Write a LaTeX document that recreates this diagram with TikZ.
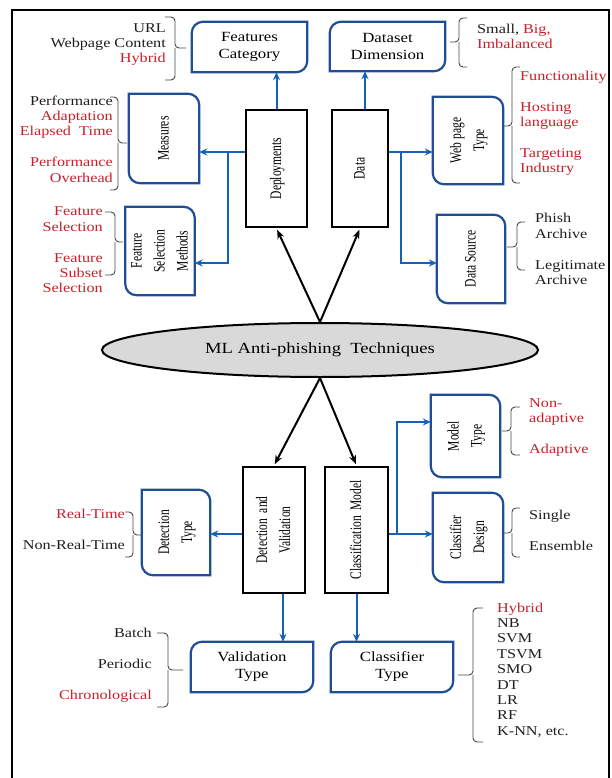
\documentclass[tikz,border=0pt]{standalone}
\usepackage{fontspec}
\usepackage{graphicx}
\setmainfont{Liberation Serif}[FakeStretch=1.2]
\newfontfamily\rotfont{Liberation Serif}[FakeStretch=0.72]
\usetikzlibrary{arrows.meta,shapes.geometric}

\definecolor{boxblue}{RGB}{32,78,150}
\definecolor{flowblue}{RGB}{22,96,182}
\definecolor{itemred}{RGB}{200,32,40}
\definecolor{itemgray}{RGB}{30,30,30}
\definecolor{bracegray}{RGB}{70,70,70}
\definecolor{hubgray}{RGB}{217,217,217}

\newcommand{\hl}[1]{\textcolor{itemred}{#1}}
\newcommand{\vlabel}[1]{\rotatebox{90}{\rotfont\fontsize{16}{23}\selectfont\begin{tabular}{@{}c@{}}#1\end{tabular}}}
% rounded top-left and bottom-right
\newcommand{\tlbr}[1]{\draw[boxline] ([yshift=-\rr]#1.north west) arc[start angle=180,end angle=90,radius=\rr] -- (#1.north east) -- ([yshift=\rr]#1.south east) arc[start angle=0,end angle=-90,radius=\rr] -- (#1.south west) -- cycle;}
% rounded top-right and bottom-left
\newcommand{\trbl}[1]{\draw[boxline] ([xshift=-\rr]#1.north east) arc[start angle=90,end angle=0,radius=\rr] -- (#1.south east) -- ([xshift=\rr]#1.south west) arc[start angle=270,end angle=180,radius=\rr] -- (#1.north west) -- cycle;}
% brace: ends x, spine x, tip x, top y, bottom y, middle y
\newcommand{\curly}[6]{\draw[brc] (#1,#4) -| (#2,#6) -- (#3,#6); \draw[brc] (#1,#5) -| (#2,#6);}

\begin{document}
\begin{tikzpicture}[x=1pt,y=1pt,
    boxline/.style={draw=boxblue,line width=2.2pt},
    catbox/.style={inner sep=0pt,align=center,font=\fontsize{14}{17}\selectfont},
    subbox/.style={inner sep=0pt},
    mainbox/.style={draw=black,line width=2.8pt,inner sep=0pt},
    hub/.style={ellipse,draw=black,line width=2pt,fill=hubgray,inner sep=0pt,
      minimum width=436pt,minimum height=54pt,font=\fontsize{15.5}{18}\selectfont},
    flow/.style={draw=flowblue,line width=2pt,-{Stealth[length=8pt,width=7pt]}},
    link/.style={draw=black,line width=2pt,-{Stealth[length=9pt,width=7pt]},shorten >=1.5pt},
    listr/.style={anchor=east,align=right,inner sep=0pt,text=itemgray,font=\fontsize{13.5}{15.4}\selectfont},
    listl/.style={anchor=west,align=left,inner sep=0pt,text=itemgray,font=\fontsize{13.5}{15.4}\selectfont},
    brc/.style={draw=bracegray,line width=0.9pt,rounded corners=4pt}]
  \def\rr{11pt}
  \useasboundingbox (0,0) rectangle (611,-778);

  % FRAME
  \draw[line width=1.6pt] (12,-778) -- (12,-10) -- (609,-10) -- (609,-778);

  % CENTRE
  \node[hub] (ml) at (320,-350) {ML Anti-phishing\ \ Techniques};

  % MAIN BLOCKS
  \node[mainbox,minimum width=61pt,minimum height=117pt] (deploy) at (276.5,-168.5) {\vlabel{Deployments}};
  \node[mainbox,minimum width=56pt,minimum height=117pt] (data) at (360,-168.5) {\vlabel{Data}};
  \node[mainbox,minimum width=62pt,minimum height=126pt] (detval) at (274,-530) {\vlabel{Detection\ \ and\\Validation}};
  \node[mainbox,minimum width=63pt,minimum height=126pt] (clsmodel) at (356.5,-530) {\vlabel{Classification\ \ Model}};

  % SUB BLOCKS
  \node[catbox,minimum width=115pt,minimum height=50pt] (featcat) at (249.5,-47) {Features\\Category};
  \node[catbox,minimum width=115pt,minimum height=49pt] (datadim) at (387.5,-46.5) {Dataset\\Dimension};
  \node[catbox,minimum width=122pt,minimum height=50pt] (valtype) at (252,-667) {Validation\\Type};
  \node[catbox,minimum width=122pt,minimum height=50pt] (clstype) at (392,-667) {Classifier\\Type};
  \node[subbox,minimum width=70pt,minimum height=89pt] (measures) at (164,-138.5) {\vlabel{Measures}};
  \node[subbox,minimum width=68pt,minimum height=88pt] (fsm) at (160,-251) {\vlabel{Feature\\Selection\\Methods}};
  \node[subbox,minimum width=70pt,minimum height=87pt] (webtype) at (468,-140.5) {\vlabel{Web page\\Type}};
  \node[subbox,minimum width=68pt,minimum height=88pt] (datasrc) at (471,-259) {\vlabel{Data Source}};
  \node[subbox,minimum width=68pt,minimum height=85pt] (dettype) at (176,-532.5) {\vlabel{Detection\\Type}};
  \node[subbox,minimum width=69pt,minimum height=82pt] (modeltype) at (465.5,-436) {\vlabel{Model\\Type}};
  \node[subbox,minimum width=70pt,minimum height=89pt] (clsdesign) at (468,-537.5) {\vlabel{Classifier\\Design}};

  \tlbr{featcat} \tlbr{datadim} \tlbr{valtype} \tlbr{clstype}
  \trbl{measures} \trbl{fsm} \trbl{webtype} \trbl{datasrc}
  \trbl{dettype} \trbl{modeltype} \trbl{clsdesign}

  % BLACK ARROWS
  \draw[link] (ml.north) -- (deploy.south);
  \draw[link] (ml.north) -- (data.south);
  \draw[link] (ml.south) -- (detval.north);
  \draw[link] (ml.south) -- (clsmodel.north);

  % BLUE ARROWS
  \coordinate (jl) at (228,-152);
  \coordinate (jr) at (401,-152);
  \coordinate (jc) at (397,-534);
  \draw[flow] (deploy.north) -- (deploy.north |- featcat.south);
  \draw[flow] ([xshift=5pt]data.north) -- ([xshift=5pt]data.north |- datadim.south);
  \draw[flow] (deploy.west |- jl) -- (measures.east |- jl);
  \draw[flow] (jl) |- ([yshift=-12pt]fsm.east);
  \draw[flow] (data.east |- jr) -- (webtype.west |- jr);
  \draw[flow] (jr) |- ([yshift=-4pt]datasrc.west);
  \draw[flow] ([yshift=-4pt]detval.west) -- ([yshift=-4pt]detval.west -| dettype.east);
  \draw[flow] (clsmodel.east |- jc) -- (clsdesign.west |- jc);
  \draw[flow] (jc) |- ([yshift=14pt]modeltype.west);
  \draw[flow] ([xshift=9pt]detval.south) -- ([xshift=9pt]detval.south |- valtype.north);
  \draw[flow] (clsmodel.south) -- (clsmodel.south |- clstype.north);

  % LISTS
  \node[listr] (featlist) at (166,-44.5) {URL\\Webpage Content\\\hl{Hybrid}};
  \node[listr] (measlist) at (113,-139) {Performance\\\hl{Adaptation}\\\hl{Elapsed\ \ Time}\\[15.4pt]\hl{Performance}\\\hl{Overhead}};
  \node[listr] (fsmlist) at (103,-250) {\hl{Feature}\\\hl{Selection}\\[15.4pt]\hl{Feature}\\\hl{Subset}\\\hl{Selection}};
  \node[listl] (dimlist) at (477,-36.5) {Small,\ \hl{Big,}\\\hl{Imbalanced}};
  \node[listl] (weblist) at (520,-123.5) {\hl{Functionality}\\[15.4pt]\hl{Hosting}\\\hl{language}\\[15.4pt]\hl{Targeting}\\\hl{Industry}};
  \node[listl] (srclist) at (535,-249) {Phish\\Archive\\[15.4pt]Legitimate\\Archive};
  \node[listr] (detlist) at (125,-529) {\hl{Real-Time}\\[15.4pt]Non-Real-Time};
  \node[listl] (modlist) at (529,-427.5) {\hl{Non-}\\\hl{adaptive}\\[15.4pt]\hl{Adaptive}};
  \node[listl] (deslist) at (529,-530) {Single\\[15.4pt]Ensemble};
  \node[listr] (vallist) at (152,-665.5) {Batch\\[15.4pt]Periodic\\[15.4pt]\hl{Chronological}};
  \node[listl] (typlist) at (497,-670) {\hl{Hybrid}\\NB\\SVM\\TSVM\\SMO\\DT\\LR\\RF\\K-NN, etc.};

  % BRACES
  \curly{165}{175}{186}{-17}{-80}{-48}
  \curly{110}{118}{127}{-97}{-190}{-143}
  \curly{105}{115}{123}{-212}{-275}{-242}
  \curly{467}{459}{450}{-18}{-67}{-42}
  \curly{520}{512}{504}{-67}{-183}{-126}
  \curly{525}{517}{507}{-222}{-270}{-247}
  \curly{125}{133}{142}{-512}{-557}{-535}
  \curly{520}{511}{502}{-407}{-455}{-431}
  \curly{520}{512}{503}{-508}{-557}{-533}
  \curly{157}{168}{183}{-633}{-707}{-670}
  \curly{483}{473}{458}{-608}{-742}{-675}
\end{tikzpicture}
\end{document}
